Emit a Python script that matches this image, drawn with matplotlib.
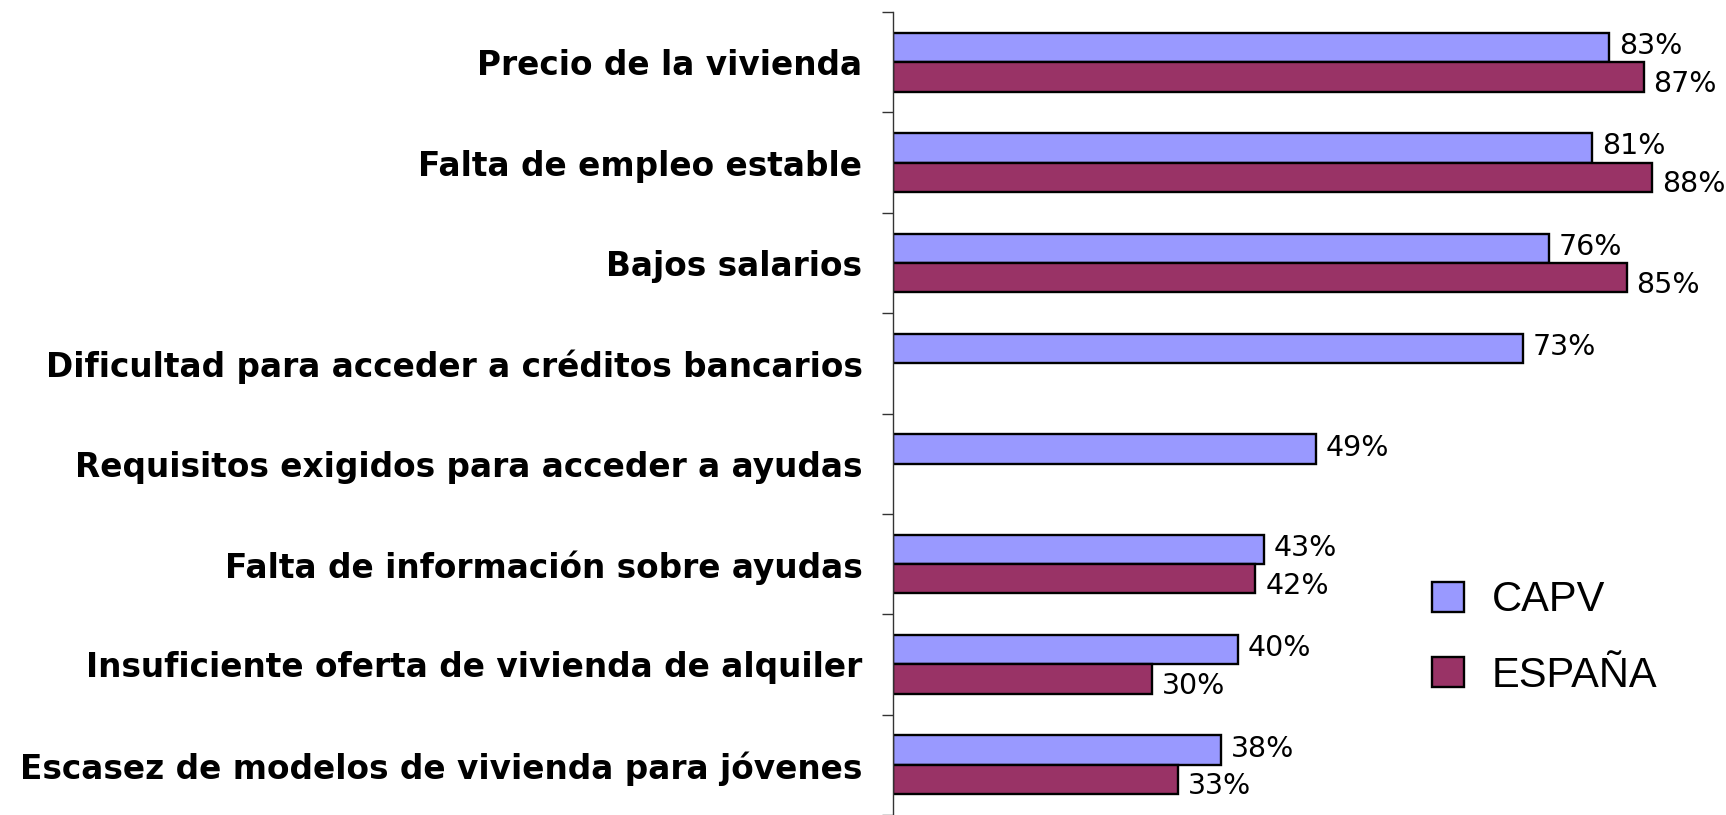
import numpy as np
import matplotlib
matplotlib.use("Agg")
import matplotlib.pyplot as plt

categorias = [
    "Precio de la vivienda",
    "Falta de empleo estable",
    "Bajos salarios",
    "Dificultad para acceder a créditos bancarios",
    "Requisitos exigidos para acceder a ayudas",
    "Falta de información sobre ayudas",
    "Insuficiente oferta de vivienda de alquiler",
    "Escasez de modelos de vivienda para jóvenes",
]
capv = [83, 81, 76, 73, 49, 43, 40, 38]
espana = [87, 88, 85, np.nan, np.nan, 42, 30, 33]

col_capv = "#9999FF"
col_esp = "#993366"

W, H = 1726, 815
fig = plt.figure(figsize=(W / 100, H / 100), dpi=100)
# axes: left spine at x=893px, top band edge at y=12px
ax = fig.add_axes([893 / W, 0, 1 - 893 / W, 1 - 12 / H])

y = np.arange(len(categorias))
h = 0.293
b1 = ax.barh(y - h / 2, capv, height=h, color=col_capv, edgecolor="black", linewidth=1.7, label="CAPV")
b2 = ax.barh(y + h / 2, espana, height=h, color=col_esp, edgecolor="black", linewidth=1.7, label="ESPAÑA")

# value labels
for yy, v in zip(y, capv):
    ax.annotate("%d%%" % v, (v, yy - h / 2), xytext=(7, 1), textcoords="offset points",
                va="center", ha="left", fontsize=20.5)
for yy, v in zip(y, espana):
    if np.isnan(v):
        continue
    ax.annotate("%d%%" % v, (v, yy + h / 2), xytext=(7, -5), textcoords="offset points",
                va="center", ha="left", fontsize=20.5)

ax.set_xlim(0, (W - 893) / 8.63)
ax.set_ylim(7.47, -0.5)

for s in ["top", "right", "bottom"]:
    ax.spines[s].set_visible(False)
ax.spines["left"].set_color("#333333")
ax.spines["left"].set_linewidth(1.0)
ax.set_xticks([])

ax.set_yticks(y)
ax.set_yticklabels(categorias, fontsize=23.6, fontweight="bold")
ax.tick_params(axis="y", which="major", length=0, pad=22)
ax.set_yticks(np.arange(-0.5, len(categorias), 1), minor=True)
ax.tick_params(axis="y", which="minor", length=8, width=1.0, color="#333333")

fig.legend(handles=[b1, b2], loc="center left", bbox_to_anchor=(1432 / W, 1 - 638 / H),
           frameon=False, prop={"family": "Liberation Sans", "size": 30},
           handlelength=0.77, handleheight=0.74, handletextpad=0.67,
           labelspacing=0.85, borderpad=0, borderaxespad=0)

fig.savefig("out.png", dpi=100)
